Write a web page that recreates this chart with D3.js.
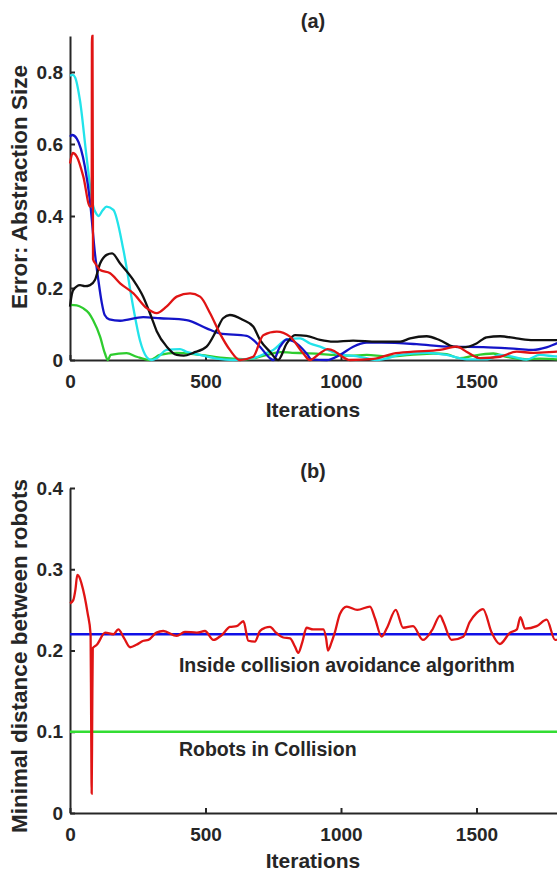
<!DOCTYPE html>
<html>
<head>
<meta charset="utf-8">
<script src="https://cdn.jsdelivr.net/npm/d3@7"></script>
<style>
    body { margin: 0; background: #fff; }
    svg { display: block; font-family: "Liberation Sans", Arial, sans-serif; }
    .tick text { font-size: 19px; font-weight: bold; fill: #262626; }
    .domain, .tick line { stroke: #262626; stroke-width: 2px; }
    .lbl { font-weight: bold; fill: #262626; }
</style>
</head>
<body>
<svg id="fig" width="557" height="873"></svg>
<script>
// (a) error of the abstraction size, one curve per robot  [iteration, error]
var errRed = [[0,0.546],[10,0.575],[25,0.565],[49,0.51],[74,0.426],[80,0.43],[81,0.9],[83,0.9],[85,0.28],[92,0.27],[111,0.25],[148,0.241],[185,0.213],[234,0.185],[283,0.144],[320,0.13],[356,0.148],[394,0.176],[443,0.185],[480,0.176],[517,0.13],[553,0.074],[590,0.028],[627,0],[676,0.009],[713,0.069],[763,0.079],[812,0.065],[861,0.018],[885,0],[923,0.019],[950,0.03],[975,0.025],[996,0.014],[1033,0],[1119,0.003],[1193,0.018],[1267,0.023],[1365,0.028],[1427,0.037],[1463,0.023],[1513,0.005],[1587,0.009],[1648,0.023],[1710,0.02],[1796,0.023],[1850,0.025]];
var errBlue = [[0,0.62],[8,0.625],[25,0.615],[55,0.537],[74,0.44],[92,0.296],[105,0.22],[117,0.16],[128,0.125],[145,0.113],[185,0.109],[270,0.119],[332,0.116],[430,0.111],[504,0.088],[553,0.074],[652,0.067],[676,0.056],[701,0.037],[738,0.005],[750,0],[775,0.037],[800,0.057],[824,0.052],[873,0.018],[890,0.002],[947,0],[996,0.014],[1045,0.037],[1095,0.048],[1150,0.048],[1279,0.044],[1402,0.037],[1525,0.036],[1648,0.031],[1709,0.028],[1758,0.035],[1796,0.046],[1850,0.06]];
var errBlack = [[0,0.148],[5,0.175],[12,0.194],[37,0.208],[55,0.205],[74,0.208],[92,0.222],[111,0.268],[135,0.292],[155,0.296],[185,0.268],[234,0.222],[270,0.176],[300,0.12],[320,0.08],[357,0.037],[394,0.014],[420,0.012],[455,0.02],[504,0.037],[541,0.083],[565,0.116],[590,0.125],[639,0.111],[676,0.093],[701,0.056],[738,0.023],[768,0],[800,0.046],[830,0.069],[873,0.067],[923,0.056],[972,0.051],[1045,0.054],[1132,0.051],[1218,0.051],[1255,0.06],[1316,0.066],[1365,0.055],[1414,0.037],[1451,0.035],[1500,0.046],[1537,0.063],[1587,0.066],[1648,0.06],[1709,0.055],[1783,0.055],[1850,0.055]];
var errGreen = [[0,0.153],[25,0.152],[48,0.144],[70,0.13],[85,0.111],[111,0.065],[129,0.018],[140,0],[150,0.014],[209,0.019],[246,0.009],[295,0],[332,0.014],[393,0.02],[480,0.014],[578,0.005],[652,0.002],[726,0.014],[775,0.022],[820,0.02],[870,0.019],[972,0.014],[1033,0.012],[1095,0.014],[1168,0.01],[1255,0.014],[1341,0.018],[1390,0.016],[1439,0.005],[1488,0.012],[1562,0.018],[1611,0.009],[1685,0.002],[1734,0.004],[1796,0.002],[1850,0.003]];
var errCyan = [[0,0.79],[10,0.792],[19,0.785],[37,0.72],[61,0.565],[86,0.426],[98,0.405],[105,0.4],[120,0.415],[135,0.426],[160,0.417],[197,0.306],[233,0.148],[258,0.055],[283,0.008],[300,0],[320,0.005],[357,0.028],[406,0.03],[430,0.023],[480,0.014],[541,0.004],[602,0],[676,0.005],[726,0.02],[750,0.028],[800,0.057],[849,0.06],[886,0.046],[923,0.037],[984,0.018],[1070,0.009],[1132,0],[1218,0.014],[1316,0.02],[1390,0.014],[1463,0.002],[1540,0.002],[1587,0.014],[1636,0.009],[1685,0.001],[1734,0.014],[1790,0.01],[1850,0.008]];

// (b) minimal distance between robots  [iteration, distance]
var minDist = [[0,0.258],[12,0.262],[20,0.275],[27,0.293],[35,0.29],[42,0.283],[65,0.246],[76,0.22],[78,0.12],[80,0.024],[82,0.12],[84,0.203],[99,0.207],[130,0.222],[160,0.22],[178,0.226],[200,0.215],[222,0.204],[245,0.207],[271,0.212],[289,0.213],[319,0.222],[344,0.224],[394,0.218],[424,0.223],[468,0.222],[498,0.224],[529,0.213],[560,0.219],[590,0.229],[615,0.23],[640,0.236],[658,0.212],[682,0.211],[701,0.224],[720,0.228],[738,0.229],[760,0.222],[787,0.216],[812,0.215],[830,0.205],[842,0.197],[857,0.21],[873,0.228],[897,0.226],[935,0.226],[945,0.215],[952,0.2],[965,0.21],[977,0.222],[996,0.245],[1021,0.254],[1060,0.25],[1107,0.254],[1125,0.24],[1150,0.217],[1170,0.228],[1202,0.25],[1229,0.228],[1266,0.23],[1302,0.213],[1336,0.225],[1366,0.243],[1378,0.235],[1408,0.213],[1451,0.217],[1475,0.235],[1500,0.246],[1524,0.251],[1556,0.222],[1586,0.208],[1624,0.222],[1649,0.226],[1662,0.241],[1679,0.227],[1722,0.23],[1759,0.238],[1790,0.213],[1830,0.22]];
var avoidLevel = 0.22;
var collisionLevel = 0.1;
var lineRange = [0, 2000];

var iterTicks = [0, 500, 1000, 1500];
var errTicks = [0, 0.2, 0.4, 0.6, 0.8];
var distTicks = [0, 0.1, 0.2, 0.3, 0.4];

var svg = d3.select("#fig");

var x = d3.scaleLinear().domain([0, 2000]).range([70, 612]);
var yA = d3.scaleLinear().domain([0, 0.9]).range([360, 36]);
var yB = d3.scaleLinear().domain([0, 0.4]).range([813, 488]);

var fmt = function (d) { return d === 0 ? "0" : d3.format(".1f")(d); };

function drawAxes(y, ticks) {
    svg.append("g")
        .attr("transform", "translate(0," + y(0) + ")")
        .call(d3.axisBottom(x).tickValues(iterTicks).tickSizeInner(-5).tickSizeOuter(0).tickPadding(15).tickFormat(d3.format("d")));
    svg.append("g")
        .attr("transform", "translate(" + x(0) + ",0)")
        .call(d3.axisLeft(y).tickValues(ticks).tickSizeInner(-5).tickSizeOuter(0).tickPadding(7).tickFormat(fmt));
}

drawAxes(yA, errTicks);
drawAxes(yB, distTicks);

function addLine(data, y, color) {
    var line = d3.line()
        .x(function (d) { return x(d[0]); })
        .y(function (d) { return y(d[1]); })
        .curve(d3.curveMonotoneX);
    svg.append("path")
        .datum(data)
        .attr("d", line)
        .attr("fill", "none")
        .attr("stroke", color)
        .attr("stroke-width", 2.3);
}

// top panel
addLine(errGreen, yA, "#2ecc2e");
addLine(errCyan, yA, "#22e3ea");
addLine(errBlue, yA, "#1414c8");
addLine(errBlack, yA, "#111");
addLine(errRed, yA, "#e01414");

// bottom panel
addLine(lineRange.map(function (d) { return [d, avoidLevel]; }), yB, "#1010e6");
addLine(lineRange.map(function (d) { return [d, collisionLevel]; }), yB, "#33dd33");
addLine(minDist, yB, "#e01414");

// titles and labels
svg.append("text").attr("class", "lbl").attr("x", 313).attr("y", 28)
    .attr("text-anchor", "middle").style("font-size", "20px").text("(a)");
svg.append("text").attr("class", "lbl").attr("x", 313).attr("y", 478)
    .attr("text-anchor", "middle").style("font-size", "20px").text("(b)");

svg.append("text").attr("class", "lbl").attr("x", 313).attr("y", 417)
    .attr("text-anchor", "middle").style("font-size", "21px").text("Iterations");
svg.append("text").attr("class", "lbl").attr("x", 313).attr("y", 868)
    .attr("text-anchor", "middle").style("font-size", "21px").text("Iterations");

svg.append("text").attr("class", "lbl").attr("transform", "translate(27,187) rotate(-90)")
    .attr("text-anchor", "middle").style("font-size", "22.5px").text("Error: Abstraction Size");
svg.append("text").attr("class", "lbl").attr("transform", "translate(27,656) rotate(-90)")
    .attr("text-anchor", "middle").style("font-size", "22.5px").text("Minimal distance between robots");

svg.append("text").attr("class", "lbl").attr("x", x(402)).attr("y", yB(0.174))
    .style("font-size", "19.5px").text("Inside collision avoidance algorithm");
svg.append("text").attr("class", "lbl").attr("x", x(402)).attr("y", yB(0.07))
    .style("font-size", "19.5px").text("Robots in Collision");
</script>
</body>
</html>
